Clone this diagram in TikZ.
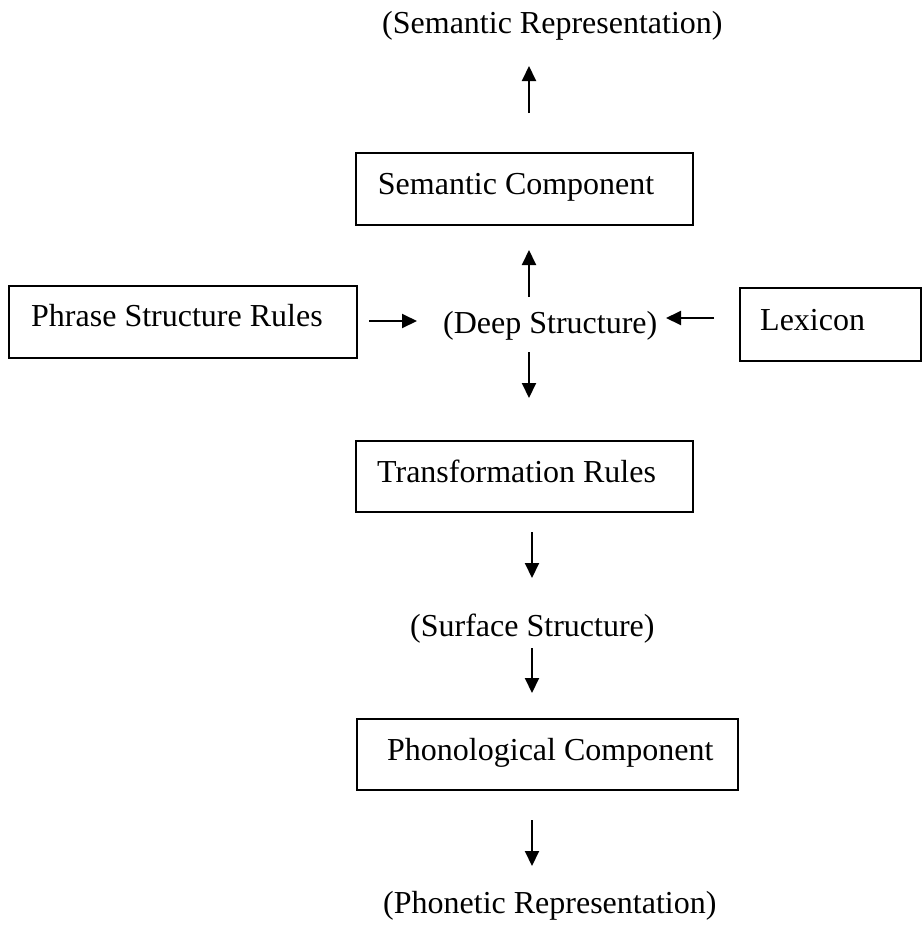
\documentclass[tikz,border=0pt]{standalone}
\usepackage{fontspec}
\setmainfont{Liberation Serif}
\usetikzlibrary{arrows.meta}
\begin{document}
\begin{tikzpicture}[x=1pt,y=-1pt,
  boxst/.style={draw=black,line width=2pt,inner sep=0pt,minimum width=#1},
  txt/.style={font=\fontsize{32}{38}\selectfont,inner sep=0pt,anchor=base west},
  arr/.style={line width=2pt,-{Triangle[length=15pt,width=14pt]}}]
\useasboundingbox (0,0) rectangle (923,927);
% boxes
\node[boxst=337,minimum height=72] (semB) at (524.5,189) {};
\node[boxst=348,minimum height=72] (psrB) at (183,322) {};
\node[boxst=181,minimum height=73] (lexB) at (830.5,324.5) {};
\node[boxst=337,minimum height=71] (trB) at (524.5,476.5) {};
\node[boxst=381,minimum height=71] (phB) at (547.5,754.5) {};
% texts
\node[txt] (semRep) at (382,33) {(Semantic Representation)};
\node[txt] (semT) at (377.7,194) {Semantic Component};
\node[txt] (psrT) at (31,326) {Phrase Structure Rules};
\node[txt] (deep) at (443,333) {(Deep Structure)};
\node[txt] (lexT) at (760,330) {Lexicon};
\node[txt] (trT) at (377,482) {Transformation Rules};
\node[txt] (surf) at (410,636) {(Surface Structure)};
\node[txt] (phT) at (387,760) {Phonological Component};
\node[txt] (phon) at (383,913) {(Phonetic Representation)};
% arrow end points
\coordinate (a1s) at (529,113); \coordinate (a1e) at (529,66);
\coordinate (a2s) at (529,297); \coordinate (a2e) at (529,250);
\coordinate (a3s) at (529,352); \coordinate (a3e) at (529,398);
\coordinate (a4s) at (369,321); \coordinate (a4e) at (417,321);
\coordinate (a5s) at (714,318); \coordinate (a5e) at (666,318);
\coordinate (a6s) at (532,532); \coordinate (a6e) at (532,578);
\coordinate (a7s) at (532,648); \coordinate (a7e) at (532,693);
\coordinate (a8s) at (532,820); \coordinate (a8e) at (532,866);
\foreach \i in {1,...,8} {\draw[arr] (a\i s) -- (a\i e);}
\end{tikzpicture}
\end{document}
